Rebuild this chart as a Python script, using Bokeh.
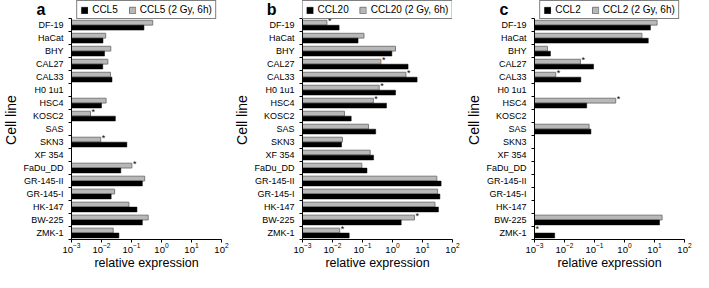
from bokeh.plotting import figure
from bokeh.models import (ColumnDataSource, Range1d, Legend, LegendItem,
                          FixedTicker, LogTickFormatter, LinearAxis)
from bokeh.layouts import row
from bokeh.embed import file_html
from bokeh.resources import INLINE

cell_lines = ["DF-19", "HaCat", "BHY", "CAL27", "CAL33", "H0 1u1", "HSC4", "KOSC2", "SAS",
              "SKN3", "XF 354", "FaDu_DD", "GR-145-II", "GR-145-I", "HK-147", "BW-225", "ZMK-1"]

x_ticks = [1e-3, 1e-2, 1e-1, 1, 10, 100]

ccl5_ctrl = [0.26, 0.0112, 0.0126, 0.011, 0.0224, None, 0.010, 0.029, None,
             0.070, None, 0.044, 0.23, 0.021, 0.152, 0.23, 0.038]
ccl5_irr = [0.51, 0.0138, 0.0204, 0.0163, 0.020, None, 0.0142, 0.0043, None,
            0.0094, None, 0.103, 0.275, 0.0274, 0.082, 0.36, 0.0245]
ccl5_sig = ["KOSC2", "SKN3", "FaDu_DD"]

ccl20_ctrl = [0.0166, 0.071, 0.95, 3.3, 6.6, 1.26, 0.63, 0.042, 0.275,
              0.020, 0.234, 0.141, 41.7, 38.0, 34.0, 1.95, 0.036]
ccl20_irr = [0.0065, 0.112, 1.26, 0.41, 2.8, 0.36, 0.23, 0.025, 0.158,
             0.0214, 0.18, 0.095, 30.0, 32.0, 26.0, 5.4, 0.0174]
ccl20_sig = ["DF-19", "CAL27", "CAL33", "H0 1u1", "HSC4", "BW-225", "ZMK-1"]

ccl2_ctrl = [7.3, 6.2, 0.0034, 0.093, 0.035, None, 0.055, None, 0.076,
             None, None, None, None, None, None, 14.7, 0.0047]
ccl2_irr = [12.2, 3.8, 0.0027, 0.034, 0.0051, None, 0.51, None, 0.066,
            None, None, None, None, None, None, 17.9, None]
ccl2_sig = ["CAL27", "CAL33", "HSC4", "ZMK-1"]

FONT = "Liberation Sans"
GRAY_FILL = "#b8b8b8"
GRAY_LINE = "#7a7a7a"
H = 272
N = len(cell_lines)
ypos = {c: N - 1 - i for i, c in enumerate(cell_lines)}   # DF-19 on top
TOP_SPACE = 1.4   # room above the rows for the legend (in row units)
NBSP = "\u00a0"


def make_panel(letter, gene, ctrl, irr, sig, w, left, right, letter_pad):
    p = figure(width=w, height=H,
               min_border_left=left, min_border_right=right,
               min_border_top=0, min_border_bottom=28,
               y_range=Range1d(-0.5, N - 0.5 + TOP_SPACE),
               x_axis_type="log", x_range=Range1d(x_ticks[0], x_ticks[-1]),
               output_backend="svg", toolbar_location=None, tools="")
    p.outline_line_color = None
    p.xgrid.grid_line_color = None
    p.ygrid.grid_line_color = None
    p.background_fill_color = "white"
    p.border_fill_color = "white"

    c_src = ColumnDataSource(dict(
        y=[ypos[c] - 0.19 for c, v in zip(cell_lines, ctrl) if v is not None],
        val=[v for v in ctrl if v is not None]))
    i_src = ColumnDataSource(dict(
        y=[ypos[c] + 0.19 for c, v in zip(cell_lines, irr) if v is not None],
        val=[v for v in irr if v is not None]))
    star_x = []
    for c in sig:
        v = irr[cell_lines.index(c)]
        star_x.append(v if v is not None else x_ticks[0])
    s_src = ColumnDataSource(dict(y=[ypos[c] + 0.3 for c in sig], x=star_x,
                                  t=["*"] * len(sig)))

    r_irr = p.hbar(y="y", left=x_ticks[0], right="val",
                   height=0.37, source=i_src, fill_color=GRAY_FILL,
                   line_color=GRAY_LINE, line_width=1)
    r_ctrl = p.hbar(y="y", left=x_ticks[0], right="val",
                    height=0.37, source=c_src, fill_color="black",
                    line_color="black", line_width=0.5)
    p.text(x="x", y="y", text="t", source=s_src,
           text_font_size="9px", text_align="left", text_baseline="middle",
           x_offset=1, text_color="black")

    ax = p.xaxis[0]
    ax.ticker = FixedTicker(ticks=x_ticks, minor_ticks=[])
    ax.formatter = LogTickFormatter()
    ax.axis_label = "relative expression"
    ax.axis_label_text_font = FONT
    ax.axis_label_text_font_size = "12.5px"
    ax.axis_label_text_font_style = "normal"
    ax.axis_label_text_color = "black"
    ax.axis_label_standoff = 0
    ax.major_label_text_font = FONT
    ax.major_label_text_font_size = "9.5px"
    ax.major_label_text_color = "black"
    ax.major_label_standoff = 0
    ax.major_tick_out = 3
    ax.major_tick_in = 0
    ax.minor_tick_line_color = None
    ax.axis_line_color = "black"
    ax.major_tick_line_color = "black"

    ay = p.yaxis[0]
    ay.ticker = FixedTicker(ticks=[ypos[c] for c in cell_lines],
                            minor_ticks=[k - 0.5 for k in range(N + 1)])
    ay.major_label_overrides = {ypos[c]: c for c in cell_lines}
    ay.bounds = (-0.5, N - 0.5)
    ay.axis_label = "Cell line"
    ay.axis_label_text_font = FONT
    ay.axis_label_text_font_size = "14px"
    ay.axis_label_text_font_style = "normal"
    ay.axis_label_text_color = "black"
    ay.axis_label_standoff = 1
    ay.major_label_text_font = FONT
    ay.major_label_text_font_size = "9px"
    ay.major_label_text_color = "black"
    ay.major_label_standoff = 2
    ay.major_tick_line_color = None
    ay.minor_tick_line_color = "black"
    ay.minor_tick_out = 3
    ay.minor_tick_in = 0
    ay.axis_line_color = "black"

    # panel letter, carried by an extra left axis with a single labelled tick
    letter_y = N - 0.5 + TOP_SPACE * 0.5
    la = LinearAxis(ticker=FixedTicker(ticks=[letter_y], minor_ticks=[]),
                    major_label_overrides={letter_y: NBSP * letter_pad + letter},
                    major_label_text_font=FONT, major_label_text_font_size="16px",
                    major_label_text_font_style="bold", major_label_text_color="black",
                    major_label_standoff=-45,
                    axis_line_color=None, major_tick_line_color=None,
                    minor_tick_line_color=None, major_tick_out=0, major_tick_in=0)
    p.add_layout(la, "left")

    legend = Legend(items=[LegendItem(label=gene, renderers=[r_ctrl]),
                           LegendItem(label=gene + " (2 Gy, 6h)", renderers=[r_irr])],
                    orientation="horizontal", location="top_center",
                    label_text_font=FONT, label_text_font_size="10px",
                    label_text_color="black",
                    label_height=10, glyph_height=8, glyph_width=8,
                    label_standoff=4, spacing=10, padding=3, margin=0,
                    border_line_color="black", border_line_width=1,
                    background_fill_alpha=1.0)
    p.add_layout(legend, "center")
    return p


pa = make_panel("a", "CCL5", ccl5_ctrl, ccl5_irr, ccl5_sig, 231, 58, 10, 0)
pb = make_panel("b", "CCL20", ccl20_ctrl, ccl20_irr, ccl20_sig, 232, 58, 11, 3)
pc = make_panel("c", "CCL2", ccl2_ctrl, ccl2_irr, ccl2_sig, 230, 60, 9, 4)

layout = row(pa, pb, pc, spacing=0)
open("out.html", "w").write(file_html(layout, INLINE))
